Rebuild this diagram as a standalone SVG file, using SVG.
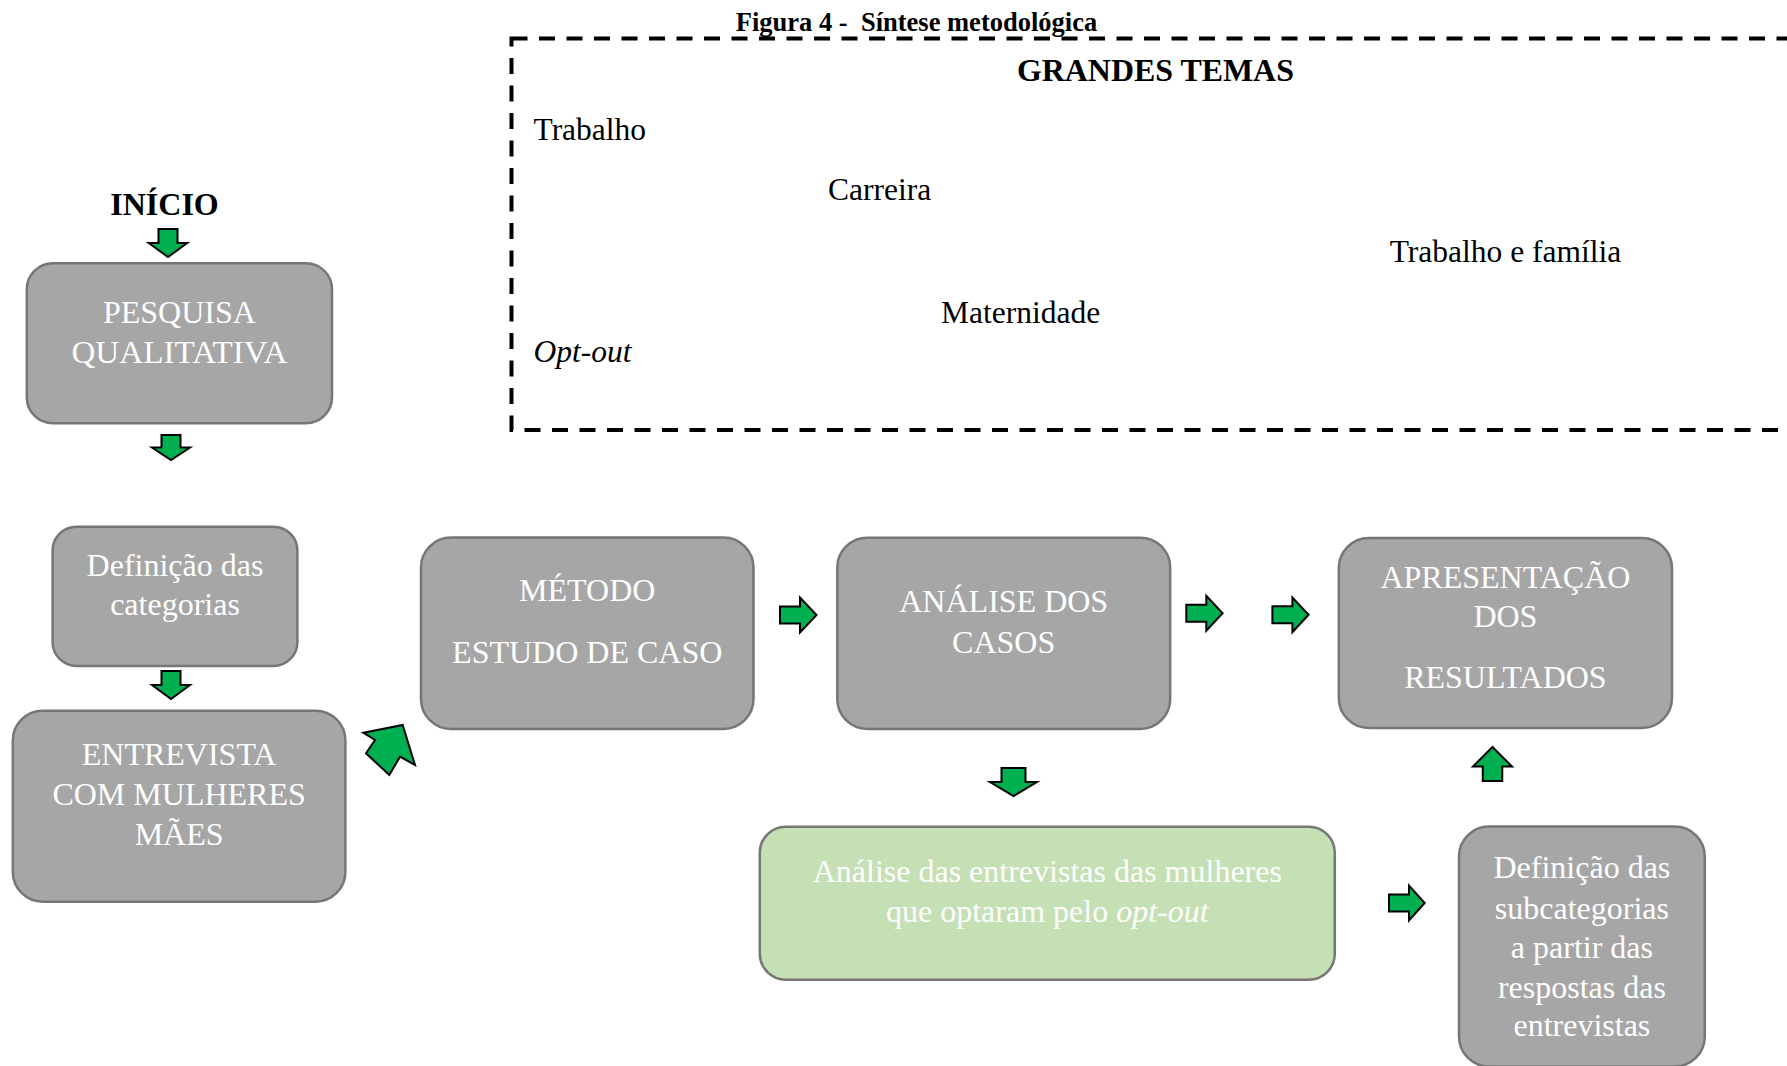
<svg xmlns="http://www.w3.org/2000/svg" width="1787" height="1066" viewBox="0 0 1787 1066">
<style>
text{font-family:"Liberation Serif","Times New Roman",serif}
.box{fill:#a6a6a6;stroke:#767676;stroke-width:2.5}
.green{fill:#c5e0b4;stroke:#767676;stroke-width:2.5}
.wt{fill:#ffffff;font-size:32px;text-anchor:middle}
.theme{fill:#000000;font-size:31.5px}
.arr{fill:#00b050;stroke:#000000;stroke-width:2;stroke-linejoin:miter}
</style>
<rect width="1787" height="1066" fill="#ffffff"/>
<text x="916.5" y="30.5" font-size="26.5" font-weight="bold" text-anchor="middle" xml:space="preserve">Figura 4 -  Síntese metodológica</text>
<g id="grandes-temas">
<rect x="511.5" y="38.5" width="1400" height="391.5" fill="none" stroke="#000000" stroke-width="4" stroke-dasharray="16 11.5"/>
<text x="1155.4" y="80.5" font-size="32" font-weight="bold" text-anchor="middle" textLength="277" lengthAdjust="spacingAndGlyphs">GRANDES TEMAS</text>
<text class="theme" x="533.5" y="140">Trabalho</text>
<text class="theme" x="828" y="200">Carreira</text>
<text class="theme" x="1389.7" y="261.7">Trabalho e família</text>
<text class="theme" x="941" y="322.7">Maternidade</text>
<text class="theme" x="533.5" y="361.7" font-style="italic">Opt-out</text>
</g>
<g id="inicio">
<text x="164.5" y="215" font-size="32" font-weight="bold" text-anchor="middle">INÍCIO</text>
</g>
<g id="pesquisa">
<rect class="box" x="26.8" y="263.3" width="305.2" height="160" rx="26"/>
<text class="wt" x="179.4" y="323.3">PESQUISA</text>
<text class="wt" x="179.4" y="363.3" textLength="216" lengthAdjust="spacingAndGlyphs">QUALITATIVA</text>
</g>
<g id="definicao-categorias">
<rect class="box" x="52.6" y="526.7" width="244.8" height="139.3" rx="24"/>
<text class="wt" x="175" y="576">Definição das</text>
<text class="wt" x="175" y="615">categorias</text>
</g>
<g id="entrevista">
<rect class="box" x="12.8" y="710.7" width="332.6" height="191" rx="30"/>
<text class="wt" x="179.1" y="765">ENTREVISTA</text>
<text class="wt" x="179.1" y="804.7">COM MULHERES</text>
<text class="wt" x="179.1" y="845">MÃES</text>
</g>
<g id="metodo">
<rect class="box" x="421" y="537.5" width="332.5" height="191.5" rx="30"/>
<text class="wt" x="587.2" y="600.7">MÉTODO</text>
<text class="wt" x="587.2" y="662.7">ESTUDO DE CASO</text>
</g>
<g id="analise-casos">
<rect class="box" x="837.3" y="537.7" width="332.9" height="191.3" rx="30"/>
<text class="wt" x="1003.7" y="611.7">ANÁLISE DOS</text>
<text class="wt" x="1003.7" y="653.3">CASOS</text>
</g>
<g id="apresentacao">
<rect class="box" x="1338.8" y="538" width="333.2" height="190" rx="30"/>
<text class="wt" x="1505.4" y="587.7">APRESENTAÇÃO</text>
<text class="wt" x="1505.4" y="627">DOS</text>
<text class="wt" x="1505.4" y="688.4">RESULTADOS</text>
</g>
<g id="analise-entrevistas">
<rect class="green" x="759.8" y="826.7" width="575" height="153" rx="26"/>
<text class="wt" x="1047.3" y="881.7">Análise das entrevistas das mulheres</text>
<text class="wt" x="1047.3" y="921.7">que optaram pelo <tspan font-style="italic">opt-out</tspan></text>
</g>
<g id="subcategorias">
<rect class="box" x="1459" y="826.5" width="245.8" height="240" rx="30"/>
<text class="wt" x="1581.9" y="878.4">Definição das</text>
<text class="wt" x="1581.9" y="918.8">subcategorias</text>
<text class="wt" x="1581.9" y="957.8">a partir das</text>
<text class="wt" x="1581.9" y="997.5">respostas das</text>
<text class="wt" x="1581.9" y="1036">entrevistas</text>
</g>
<g id="connectors">
<polygon class="arr" points="158.5,229 177.5,229 177.5,243 187.25,243 168,257 148.75,243 158.5,243"/>
<polygon class="arr" points="161.5,435 180.5,435 180.5,447.5 190,447.5 171,460 152,447.5 161.5,447.5"/>
<polygon class="arr" points="161.5,671 180.5,671 180.5,685 190,685 171,699 152,685 161.5,685"/>
<polygon class="arr" points="402.7,725 415,765 400,756.7 389.3,775 366,753.3 375,740 363.3,732.7"/>
<polygon class="arr" points="780,606.5 800,606.5 800,597.5 816.5,615 800,632.5 800,623.5 780,623.5"/>
<polygon class="arr" points="1186.3,604.7 1206.3,604.7 1206.3,595.7 1222.6,613.2 1206.3,630.7 1206.3,621.7 1186.3,621.7"/>
<polygon class="arr" points="1272.4,606.3 1292.4,606.3 1292.4,597.5 1308.6,614.8 1292.4,632.1 1292.4,623.3 1272.4,623.3"/>
<polygon class="arr" points="1001.5,768 1025.5,768 1025.5,782 1037,782 1013.5,796 990,782 1001.5,782"/>
<polygon class="arr" points="1389,894.5 1409,894.5 1409,885.5 1424.7,903 1409,920.5 1409,911.5 1389,911.5"/>
<polygon class="arr" points="1492.5,747 1512,766.5 1502.25,766.5 1502.25,781 1482.75,781 1482.75,766.5 1473,766.5"/>
</g>
</svg>
